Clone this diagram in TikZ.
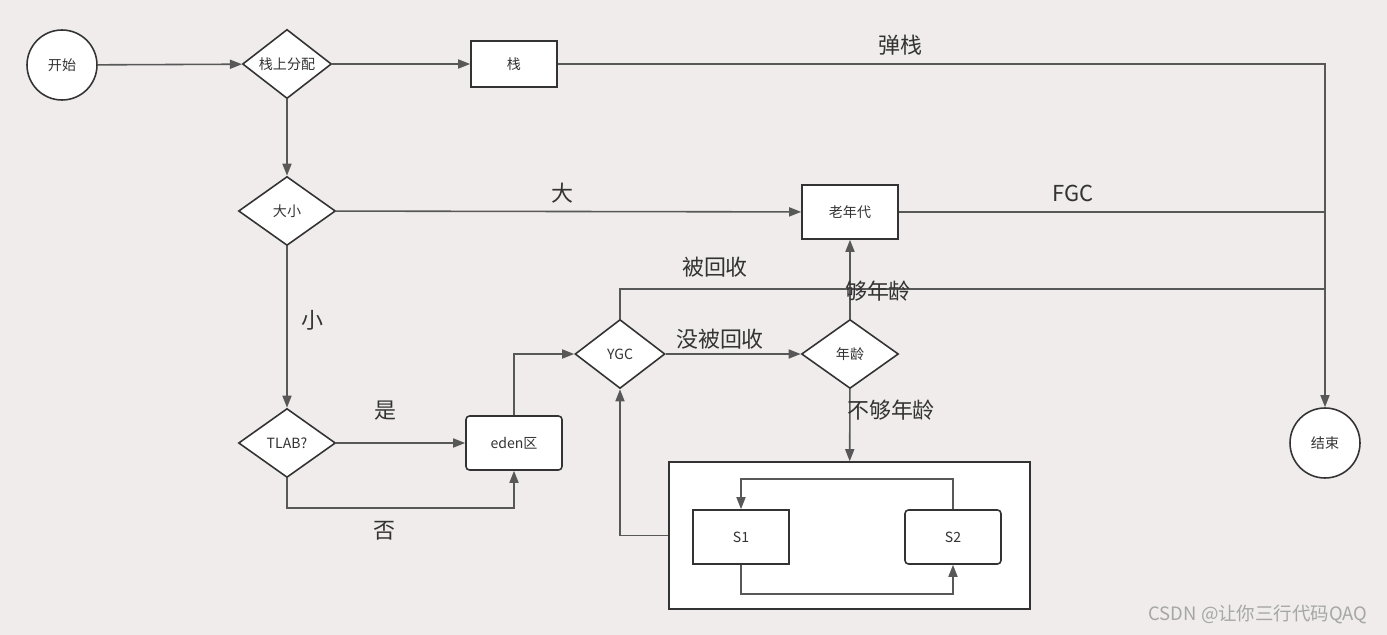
\documentclass[tikz,border=0pt]{standalone}
\usepackage{fontspec}
\usetikzlibrary{shapes.geometric,arrows.meta}
\newfontfamily\cjk{Noto Sans CJK SC}
\definecolor{fond}{RGB}{239,236,235}
\definecolor{trait}{RGB}{88,88,88}
\definecolor{bord}{RGB}{51,51,51}
\tikzset{
  petit/.style={font=\cjk\fontsize{8}{9}\selectfont,text=bord},
  boite/.style={petit,draw=bord,fill=white,line width=0.9pt,minimum width=1.92cm,minimum height=1.08cm,inner sep=0pt},
  losange/.style={petit,diamond,draw=bord,fill=white,line width=0.9pt,minimum width=1.94cm,minimum height=1.38cm,inner sep=0pt},
  rond/.style={petit,ellipse,draw=bord,fill=white,line width=0.9pt,minimum width=1.4cm,minimum height=1.4cm,inner sep=0pt},
  etiq/.style={font=\cjk\fontsize{12.5}{14}\selectfont,text=bord},
  fleche/.style={draw=trait,line width=0.9pt,-{Triangle[length=2.4mm,width=1.8mm]}},
  ligne/.style={draw=trait,line width=0.9pt}
}
\begin{document}
\begin{tikzpicture}[x=0.02cm,y=-0.02cm]
\fill [fond] (0,0) rectangle (1387,635);
% les noeuds
\node [rond] (debut) at (62,65) {开始};
\node [losange,minimum width=1.78cm] (alloc) at (287,64) {栈上分配};
\node [boite,minimum width=1.72cm,minimum height=0.92cm] (pile) at (514,64) {栈};
\node [losange] (taille) at (287,211) {大小};
\node [boite] (vieux) at (850,212) {老年代};
\node [losange] (tlab) at (287,443) {TLAB?};
\node [boite,rounded corners=2pt] (eden) at (514,443) {eden区};
\node [losange,minimum width=1.8cm] (ygc) at (620,354) {YGC};
\node [losange] (age) at (850,354) {年龄};
\node [boite,minimum width=7.22cm,minimum height=2.94cm] (surv) at (849.5,535.5) {};
\node [boite] (sun) at (741,537) {S1};
\node [boite,rounded corners=2pt] (sdeux) at (953,537) {S2};
\node [rond] (fin) at (1325,443) {结束};
% les liaisons
\draw [fleche] (debut) -- (alloc);
\draw [fleche] (alloc) -- (pile);
\draw [fleche] (pile.east) -| (fin.north);
\draw [fleche] (alloc) -- (taille);
\draw [fleche] (taille) -- (vieux);
\draw [ligne] (vieux.east) -- (vieux.east -| fin.north);
\draw [fleche] (taille) -- (tlab);
\draw [fleche] (tlab) -- (eden);
\draw [fleche] (tlab.south) -- ++(0,30) -| (eden.south);
\draw [fleche] (eden.north) |- (ygc.west);
\draw [ligne] (ygc.north) |- (fin.north |- 0,289);
\draw [fleche] (ygc) -- (age);
\draw [fleche] (age) -- (vieux);
\draw [fleche] (age) -- (surv);
\draw [fleche] (sdeux.north) -- ++(0,-30) -| (sun.north);
\draw [fleche] (sun.south) -- ++(0,29) -| (sdeux.south);
\draw [fleche] (surv.west) -| (ygc.south);
% les etiquettes
\node [etiq] (tdepile) at (900,45) {弹栈};
\node [etiq] (tgrand) at (562,193) {大};
\node [etiq] (tfgc) at (1073,193) {FGC};
\node [etiq] (tpetit) at (312,320) {小};
\node [etiq] (toui) at (385,411) {是};
\node [etiq] (tnon) at (384,531) {否};
\node [etiq] (trecup) at (715,267) {被回收};
\node [etiq] (tnonrecup) at (720,339) {没被回收};
\node [etiq] (tassez) at (878,291) {够年龄};
\node [etiq] (tpasassez) at (891,410) {不够年龄};
\node [font=\cjk\fontsize{10.5}{12}\selectfont,text=black!35] (marque) at (1258,614) {CSDN @让你三行代码QAQ};
\end{tikzpicture}
\end{document}
